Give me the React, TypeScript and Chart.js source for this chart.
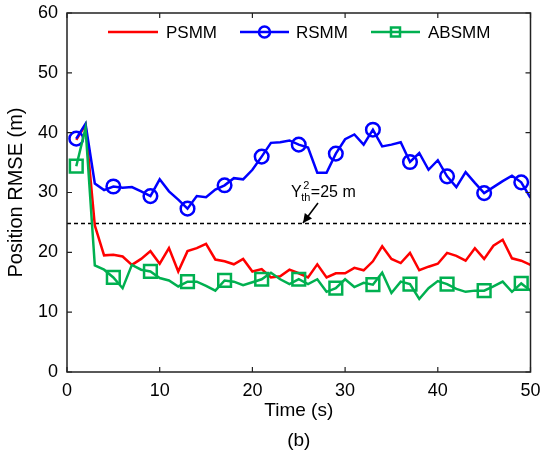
import React, { useEffect, useRef } from "react";
import { Chart, registerables } from "chart.js";

Chart.register(...registerables);

const times = [1, 2, 3, 4, 5, 6, 7, 8, 9, 10, 11, 12, 13, 14, 15, 16, 17, 18, 19, 20, 21, 22, 23, 24, 25, 26, 27, 28, 29, 30, 31, 32, 33, 34, 35, 36, 37, 38, 39, 40, 41, 42, 43, 44, 45, 46, 47, 48, 49, 50];

const psmm = [38.8, 41.3, 24.5, 19.5, 19.6, 19.3, 17.9, 18.9, 20.2, 18.1, 20.7, 16.8, 20.2, 20.7, 21.4, 18.8, 18.5, 18.0, 18.9, 16.8, 17.2, 15.8, 16.0, 17.1, 16.5, 15.8, 18.0, 15.8, 16.5, 16.5, 17.4, 17.0, 18.5, 21.0, 18.9, 18.2, 19.9, 17.0, 17.6, 18.1, 19.9, 19.4, 18.6, 20.7, 18.9, 21.1, 22.1, 19.0, 18.6, 17.9];

const rsmm = [39.0, 41.5, 31.5, 30.4, 31.0, 30.8, 30.9, 30.2, 29.4, 32.2, 30.2, 28.8, 27.3, 29.4, 29.2, 30.5, 31.2, 32.4, 32.2, 33.8, 36.0, 38.3, 38.4, 38.7, 38.0, 37.5, 33.3, 33.3, 36.5, 38.9, 39.7, 38.0, 40.5, 37.7, 38.0, 38.4, 35.1, 36.6, 33.8, 35.4, 32.7, 30.9, 33.4, 31.6, 29.9, 30.9, 31.9, 32.8, 31.7, 29.1];

const absmm = [34.4, 40.8, 17.8, 17.1, 15.8, 14.0, 17.9, 17.1, 16.8, 15.7, 15.3, 14.3, 15.1, 15.1, 14.4, 13.6, 15.3, 15.1, 14.5, 15.0, 15.5, 16.6, 15.5, 14.7, 15.5, 14.7, 15.5, 13.4, 14.0, 15.5, 14.2, 14.9, 14.6, 16.6, 13.2, 15.1, 14.7, 12.2, 14.0, 15.2, 14.7, 13.9, 13.4, 13.6, 13.6, 14.3, 15.1, 13.4, 14.8, 13.6];

const thresholdX = [0, 50];
const thresholdY = [24.8, 24.8];

const seriesNames = ["PSMM", "RSMM", "ABSMM"];
const xTickValues = [0, 10, 20, 30, 40, 50];
const yTickValues = [0, 10, 20, 30, 40, 50, 60];
const xTitle = "Time (s)";
const yTitle = "Position RMSE (m)";
const caption = "(b)";

const RED = "#FF0000";
const BLUE = "#0000FF";
const GREEN = "#00B050";
const FONT = "'Liberation Sans', Arial, Helvetica, sans-serif";

export default function App() {
  const ref = useRef<HTMLCanvasElement>(null);

  useEffect(() => {
    document.body.style.margin = "0";
    const canvas = ref.current;
    if (!canvas) return;

    const toPts = (arr: number[]) => times.map((t, i) => ({ x: t, y: arr[i] }));
    const markerR = (r: number) => (ctx: any) => (ctx.dataIndex % 4 === 0 ? r : 0);

    const overlay = {
      id: "overlay",
      afterDraw(chart: any) {
        const ctx = chart.ctx as CanvasRenderingContext2D;
        const { left, right, top, bottom } = chart.chartArea;
        const xs = chart.scales.x;
        const ys = chart.scales.y;
        ctx.save();
        // frame
        ctx.strokeStyle = "#222";
        ctx.lineWidth = 1.5;
        ctx.strokeRect(left, top, right - left, bottom - top);
        // inside ticks
        ctx.lineWidth = 1.2;
        ctx.beginPath();
        xTickValues.forEach((v) => {
          const px = xs.getPixelForValue(v);
          ctx.moveTo(px, bottom);
          ctx.lineTo(px, bottom - 5);
          ctx.moveTo(px, top);
          ctx.lineTo(px, top + 5);
        });
        yTickValues.forEach((v) => {
          const py = ys.getPixelForValue(v);
          ctx.moveTo(left, py);
          ctx.lineTo(left + 5, py);
          ctx.moveTo(right, py);
          ctx.lineTo(right - 5, py);
        });
        ctx.stroke();

        // axis titles
        ctx.fillStyle = "#000";
        ctx.font = `19px ${FONT}`;
        ctx.textAlign = "center";
        ctx.textBaseline = "middle";
        const cx = (left + right) / 2;
        ctx.fillText(xTitle, cx, 411);
        ctx.fillText(caption, cx, 441);
        ctx.save();
        ctx.translate(16, (top + bottom) / 2);
        ctx.rotate(-Math.PI / 2);
        ctx.font = `20px ${FONT}`;
        ctx.fillText(yTitle, 0, 0);
        ctx.restore();

        // legend
        const ly = 32;
        const items = [
          { name: seriesNames[0], color: RED, x0: 108, x1: 158, tx: 166, marker: "none" },
          { name: seriesNames[1], color: BLUE, x0: 240, x1: 289, tx: 296, marker: "circle" },
          { name: seriesNames[2], color: GREEN, x0: 371, x1: 420, tx: 428, marker: "square" },
        ];
        ctx.font = `17px ${FONT}`;
        ctx.textAlign = "left";
        items.forEach((it) => {
          ctx.strokeStyle = it.color;
          ctx.lineWidth = 2.5;
          ctx.beginPath();
          ctx.moveTo(it.x0, ly);
          ctx.lineTo(it.x1, ly);
          ctx.stroke();
          const mx = (it.x0 + it.x1) / 2;
          if (it.marker === "circle") {
            ctx.beginPath();
            ctx.arc(mx, ly, 5.5, 0, Math.PI * 2);
            ctx.stroke();
          } else if (it.marker === "square") {
            ctx.strokeRect(mx - 4.5, ly - 4.5, 9, 9);
          }
          ctx.fillStyle = "#000";
          ctx.fillText(it.name, it.tx, ly + 1);
        });

        // annotation
        ctx.fillStyle = "#000";
        ctx.textBaseline = "alphabetic";
        ctx.font = `16px ${FONT}`;
        const ax = 291;
        const ay = 197;
        ctx.fillText("Y", ax, ay);
        const yw = ctx.measureText("Y").width;
        ctx.font = `11px ${FONT}`;
        ctx.fillText("th", ax + yw - 0.5, ay + 4);
        const thw = ctx.measureText("th").width;
        ctx.fillText("2", ax + yw + 1.5, ay - 8);
        ctx.font = `16px ${FONT}`;
        ctx.fillText("=25 m", ax + yw + thw, ay);

        // arrow
        const x1 = 318, y1 = 203, x2 = 303, y2 = 223;
        ctx.strokeStyle = "#000";
        ctx.lineWidth = 1.5;
        ctx.beginPath();
        ctx.moveTo(x1, y1);
        ctx.lineTo(x2, y2);
        ctx.stroke();
        const ang = Math.atan2(y2 - y1, x2 - x1);
        const hl = 9, hw = 4.5;
        ctx.beginPath();
        ctx.moveTo(x2, y2);
        ctx.lineTo(x2 - hl * Math.cos(ang) + hw * Math.sin(ang), y2 - hl * Math.sin(ang) - hw * Math.cos(ang));
        ctx.lineTo(x2 - hl * Math.cos(ang) - hw * Math.sin(ang), y2 - hl * Math.sin(ang) + hw * Math.cos(ang));
        ctx.closePath();
        ctx.fill();
        ctx.restore();
      },
    };

    const chart = new Chart(canvas, {
      type: "line",
      data: {
        datasets: [
          {
            label: seriesNames[2],
            data: toPts(absmm),
            borderColor: GREEN,
            backgroundColor: "transparent",
            borderWidth: 2.5,
            pointStyle: "rect",
            pointRadius: markerR(9),
            pointBorderWidth: 2.5,
            pointBorderColor: GREEN,
            pointBackgroundColor: "transparent",
            tension: 0,
            order: 0,
          },
          {
            label: seriesNames[1],
            data: toPts(rsmm),
            borderColor: BLUE,
            backgroundColor: "transparent",
            borderWidth: 2.5,
            pointStyle: "circle",
            pointRadius: markerR(6.8),
            pointBorderWidth: 2.5,
            pointBorderColor: BLUE,
            pointBackgroundColor: "transparent",
            tension: 0,
            order: 1,
          },
          {
            label: seriesNames[0],
            data: toPts(psmm),
            borderColor: RED,
            backgroundColor: "transparent",
            borderWidth: 2.5,
            pointRadius: 0,
            tension: 0,
            order: 2,
          },
          {
            label: "threshold",
            data: thresholdX.map((x, i) => ({ x, y: thresholdY[i] })),
            borderColor: "#000",
            borderWidth: 1.5,
            borderDash: [4, 3],
            pointRadius: 0,
            order: 3,
          },
        ],
      },
      options: {
        responsive: false,
        animation: false,
        devicePixelRatio: 1,
        layout: { padding: { left: 0, top: 13, right: 10, bottom: 0 } },
        plugins: { legend: { display: false }, tooltip: { enabled: false } },
        scales: {
          x: {
            type: "linear",
            min: 0,
            max: 50,
            grid: { display: false, drawTicks: false },
            border: { display: false },
            ticks: {
              stepSize: 10,
              padding: 8,
              color: "#000",
              font: { family: FONT, size: 18 },
              maxRotation: 0,
            },
            afterFit(scale: any) {
              scale.height = 87;
              scale.paddingLeft = 0;
              scale.paddingRight = 0;
            },
          },
          y: {
            min: 0,
            max: 60,
            grid: { display: false, drawTicks: false },
            border: { display: false },
            ticks: {
              stepSize: 10,
              padding: 9,
              color: "#000",
              font: { family: FONT, size: 18 },
            },
            afterFit(scale: any) {
              scale.width = 67;
              scale.paddingTop = 0;
              scale.paddingBottom = 0;
            },
          },
        },
      },
      plugins: [overlay],
    });

    return () => chart.destroy();
  }, []);

  return (
    <div style={{ position: "fixed", left: 0, top: 0, width: 542, height: 459, background: "#fff" }}>
      <canvas ref={ref} width={542} height={459} style={{ display: "block" }} />
    </div>
  );
}
